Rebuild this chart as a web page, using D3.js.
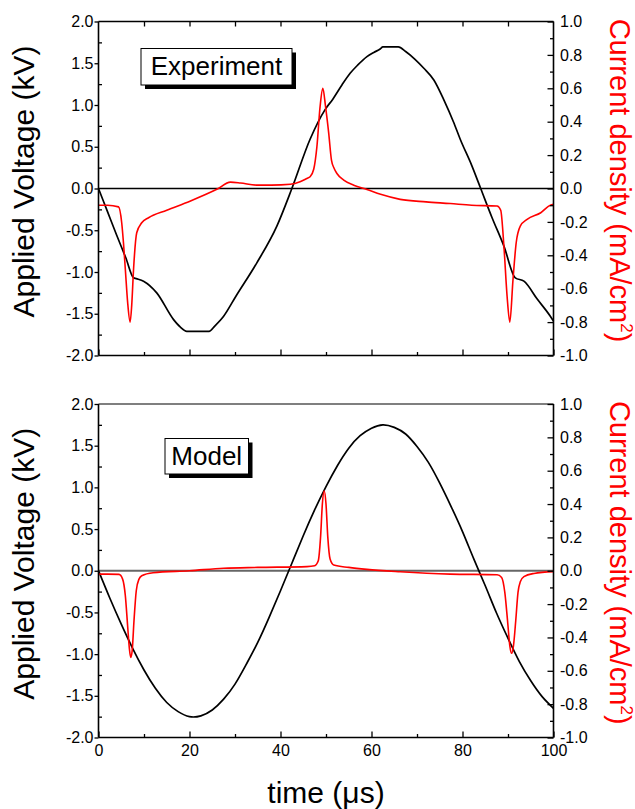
<!DOCTYPE html>
<html><head><meta charset="utf-8">
<script src="https://cdn.jsdelivr.net/npm/d3@7"></script>
<style>
html,body{margin:0;padding:0;background:#fff;}
svg text{font-family:"Liberation Sans",Arial,Helvetica,sans-serif;}
</style></head>
<body>
<svg id="chart" width="635" height="809"></svg>
<script>
// ---------- Data ----------
// Experiment: applied voltage (kV)
const expVTime = [0, 2, 4, 6, 7.7, 8.3, 9.9, 12.8, 16.5, 18, 19.4, 24.3, 25.5, 27.5, 30.2, 34.8, 39.2, 42.5, 46.5, 49.8, 51.5, 53.5, 55.3, 57, 59, 60.5, 61.9, 62.5, 65.9, 67.5, 69.5, 71.5, 73.7, 76, 78, 79.5, 82, 84.0, 86.5, 89.1, 91.6, 93.5, 96.5, 99.3, 100];
const expVolt   = [0, -0.28, -0.56, -0.83, -1.07, -1.08, -1.11, -1.25, -1.57, -1.66, -1.71, -1.71, -1.65, -1.53, -1.29, -0.89, -0.45, 0, 0.59, 0.945, 1.07, 1.24, 1.38, 1.48, 1.58, 1.63, 1.67, 1.695, 1.695, 1.64, 1.55, 1.44, 1.30, 1.05, 0.80, 0.59, 0.28, 0, -0.35, -0.69, -1.07, -1.11, -1.33, -1.53, -1.59];
// Experiment: current density (mA/cm2)
const expJTime = [0, 2, 4.4, 5.1, 5.5, 5.9, 6.4, 6.95, 7.3, 7.7, 8.4, 9.5, 11, 15, 20.1, 26, 29, 31.2, 34.8, 38, 42.2, 44.3, 45.8, 46.5, 47.3, 48, 48.7, 49.3, 49.9, 50.6, 51.2, 51.8, 52.4, 53.9, 56.1, 59, 62, 66.3, 72, 77.3, 82, 87.6, 88.4, 89.1, 89.8, 90.4, 91.1, 91.8, 92.7, 94.2, 97.2, 99.3, 100];
const expCurr  = [-0.1, -0.1, -0.11, -0.205, -0.33, -0.485, -0.68, -0.80, -0.7, -0.485, -0.265, -0.205, -0.175, -0.13, -0.076, -0.005, 0.038, 0.033, 0.02, 0.02, 0.025, 0.04, 0.06, 0.07, 0.115, 0.25, 0.49, 0.60, 0.49, 0.33, 0.17, 0.12, 0.09, 0.05, 0.02, -0.006, -0.035, -0.065, -0.08, -0.09, -0.1, -0.105, -0.13, -0.345, -0.645, -0.80, -0.545, -0.325, -0.225, -0.185, -0.145, -0.1, -0.095];
// Model: applied voltage (kV)
const modVTime = [0, 2.5, 5, 7.5, 10, 12.5, 15, 17.5, 20, 22.5, 25, 27.5, 30, 32.5, 35, 37.5, 40, 42.5, 45, 47.5, 50, 52.5, 55, 57.5, 60, 62.5, 65, 67.5, 70, 72.5, 75, 77.5, 80, 82.5, 85, 87.5, 90, 92.5, 95, 97.5, 100];
const modVolt  = [0, -0.33, -0.64, -0.93, -1.19, -1.41, -1.58, -1.69, -1.75, -1.74, -1.67, -1.54, -1.36, -1.12, -0.86, -0.56, -0.24, 0.09, 0.42, 0.73, 1.01, 1.26, 1.47, 1.62, 1.71, 1.75, 1.72, 1.64, 1.49, 1.30, 1.05, 0.77, 0.47, 0.14, -0.18, -0.51, -0.81, -1.09, -1.32, -1.51, -1.65];
// Model: current density (mA/cm2)
const modJTime = [0, 2, 4.5, 5.3, 5.9, 6.4, 6.8, 7.1, 7.4, 7.8, 8.3, 8.9, 9.5, 12, 20, 27.5, 35, 45.8, 47.5, 48.3, 48.8, 49.2, 49.6, 50.0, 50.4, 50.9, 51.7, 55, 59, 66.3, 77.3, 87.6, 88.6, 89.3, 89.9, 90.4, 90.8, 91.2, 91.7, 92.2, 92.7, 93.5, 95.7, 100];
const modCurr  = [-0.02, -0.02, -0.022, -0.05, -0.15, -0.33, -0.47, -0.52, -0.48, -0.3, -0.12, -0.05, -0.03, -0.012, 0.0, 0.015, 0.02, 0.025, 0.03, 0.06, 0.2, 0.4, 0.48, 0.4, 0.2, 0.07, 0.034, 0.02, 0.008, -0.006, -0.02, -0.024, -0.04, -0.13, -0.3, -0.45, -0.495, -0.45, -0.3, -0.13, -0.066, -0.035, -0.016, -0.005];
// Tick labels
const timeTicks = [0, 20, 40, 60, 80, 100];
const voltTicks = [-2.0, -1.5, -1.0, -0.5, 0.0, 0.5, 1.0, 1.5, 2.0];
const currTicks = [-1.0, -0.8, -0.6, -0.4, -0.2, 0.0, 0.2, 0.4, 0.6, 0.8, 1.0];
const panelLabels = ["Experiment", "Model"];

// ---------- Drawing ----------
const svg = d3.select("#chart");
const x = d3.scaleLinear().domain([0, 100]).range([98.5, 553.5]);
const fmt = d => d.toFixed(1);
const zip = (a, b) => a.map((t, i) => [t, b[i]]);

const panels = [
  {top: 21.5, bottom: 355.5, vt: expVTime, v: expVolt, jt: expJTime, j: expCurr, label: panelLabels[0], box: [141, 48.5, 151, 36.5], xlab: false, zeroCol: "#000", topCol: "#000", topTicks: true, vCurve: d3.curveMonotoneX},
  {top: 404, bottom: 737.5, vt: modVTime, v: modVolt, jt: modJTime, j: modCurr, label: panelLabels[1], box: [165, 438.5, 83.5, 35.5], xlab: true, zeroCol: "#666", topCol: "#555", topTicks: false, vCurve: d3.curveNatural}
];

panels.forEach(p => {
  const yV = d3.scaleLinear().domain([-2, 2]).range([p.bottom, p.top]);
  const yJ = d3.scaleLinear().domain([-1, 1]).range([p.bottom, p.top]);
  const g = svg.append("g");

  // zero line
  g.append("line").attr("x1", x(0)).attr("x2", x(100)).attr("y1", yV(0)).attr("y2", yV(0))
    .attr("stroke", p.zeroCol).attr("stroke-width", p.xlab ? 2 : 1.5);

  // curves
  g.append("path").datum(zip(p.vt, p.v))
    .attr("fill", "none").attr("stroke", "#000").attr("stroke-width", 1.7)
    .attr("d", d3.line().x(d => x(d[0])).y(d => yV(d[1])).curve(p.vCurve));
  g.append("path").datum(zip(p.jt, p.j))
    .attr("fill", "none").attr("stroke", "#ff0000").attr("stroke-width", 1.6)
    .attr("d", d3.line().x(d => x(d[0])).y(d => yJ(d[1])).curve(d3.curveMonotoneX));

  // frame
  g.append("line").attr("x1", x(0)).attr("x2", x(100)).attr("y1", p.top).attr("y2", p.top).attr("stroke", p.topCol).attr("stroke-width", 1.6);
  g.append("line").attr("x1", x(0)).attr("x2", x(100)).attr("y1", p.bottom).attr("y2", p.bottom).attr("stroke", "#000").attr("stroke-width", 1.6);
  g.append("line").attr("x1", x(0)).attr("x2", x(0)).attr("y1", p.top).attr("y2", p.bottom).attr("stroke", "#000").attr("stroke-width", 1.6);
  g.append("line").attr("x1", x(100)).attr("x2", x(100)).attr("y1", p.top).attr("y2", p.bottom).attr("stroke", "#000").attr("stroke-width", 1.6);

  const style = sel => {
    sel.select(".domain").remove();
    sel.selectAll("line").attr("stroke", "#000").attr("stroke-width", 1.3);
    sel.selectAll("text").attr("font-size", 16).attr("fill", "#000")
      .attr("font-family", '"Liberation Sans", Arial, Helvetica, sans-serif');
  };

  // left axis
  g.append("g").attr("transform", `translate(${x(0)},0)`)
    .call(d3.axisLeft(yV).tickValues(voltTicks).tickFormat(fmt).tickSize(4).tickPadding(1)).call(style);
  g.append("g").attr("transform", `translate(${x(0)},0)`)
    .call(d3.axisLeft(yV).tickValues(d3.range(-1.75, 2, 0.5)).tickFormat("").tickSize(-3.5)).call(style);
  // right axis
  g.append("g").attr("transform", `translate(${x(100)},0)`)
    .call(d3.axisRight(yJ).tickValues(currTicks).tickFormat(fmt).tickSize(-6).tickPadding(6.5)).call(style);
  g.append("g").attr("transform", `translate(${x(100)},0)`)
    .call(d3.axisRight(yJ).tickValues(d3.range(-0.9, 1, 0.2)).tickFormat("").tickSize(-3.5)).call(style);
  // bottom axis
  g.append("g").attr("transform", `translate(0,${p.bottom})`)
    .call(d3.axisBottom(x).tickValues(timeTicks).tickFormat(p.xlab ? d3.format("d") : "").tickSize(-6).tickPadding(7)).call(style);
  g.append("g").attr("transform", `translate(0,${p.bottom})`)
    .call(d3.axisBottom(x).tickValues(d3.range(10, 100, 20)).tickFormat("").tickSize(-3.5)).call(style);
  if (p.topTicks) {
    g.append("g").attr("transform", `translate(0,${p.top})`)
      .call(d3.axisTop(x).tickValues(d3.range(10, 100, 10)).tickFormat("").tickSize(-5)).call(style);
  }

  // axis titles
  const cy = (p.top + p.bottom) / 2;
  g.append("text").attr("transform", `translate(33.5,${cy - 7}) rotate(-90)`)
    .attr("text-anchor", "middle").attr("font-size", 30).attr("fill", "#000")
    .text("Applied Voltage (kV)");
  const rt = g.append("text").attr("transform", `translate(610,${cy - 8}) rotate(90)`)
    .attr("text-anchor", "middle").attr("font-size", 29).attr("fill", "#ff0000");
  rt.append("tspan").text("Current density (mA/cm");
  rt.append("tspan").attr("font-size", 17).attr("dy", -11).text("2");
  rt.append("tspan").attr("dy", 11).text(")");

  // panel label box with shadow
  const [bx, by, bw, bh] = p.box;
  g.append("rect").attr("x", bx + 4).attr("y", by + 4).attr("width", bw).attr("height", bh).attr("fill", "#000");
  g.append("rect").attr("x", bx).attr("y", by).attr("width", bw).attr("height", bh)
    .attr("fill", "#fff").attr("stroke", "#000").attr("stroke-width", 1);
  g.append("text").attr("x", bx + bw / 2).attr("y", by + 26.5).attr("text-anchor", "middle")
    .attr("font-size", 26).attr("fill", "#000").text(p.label);
});

// x-axis title
svg.append("text").attr("x", x(50)).attr("y", 803).attr("text-anchor", "middle")
  .attr("font-size", 30).attr("fill", "#000").text("time (\u03bcs)");
</script>
</body></html>
